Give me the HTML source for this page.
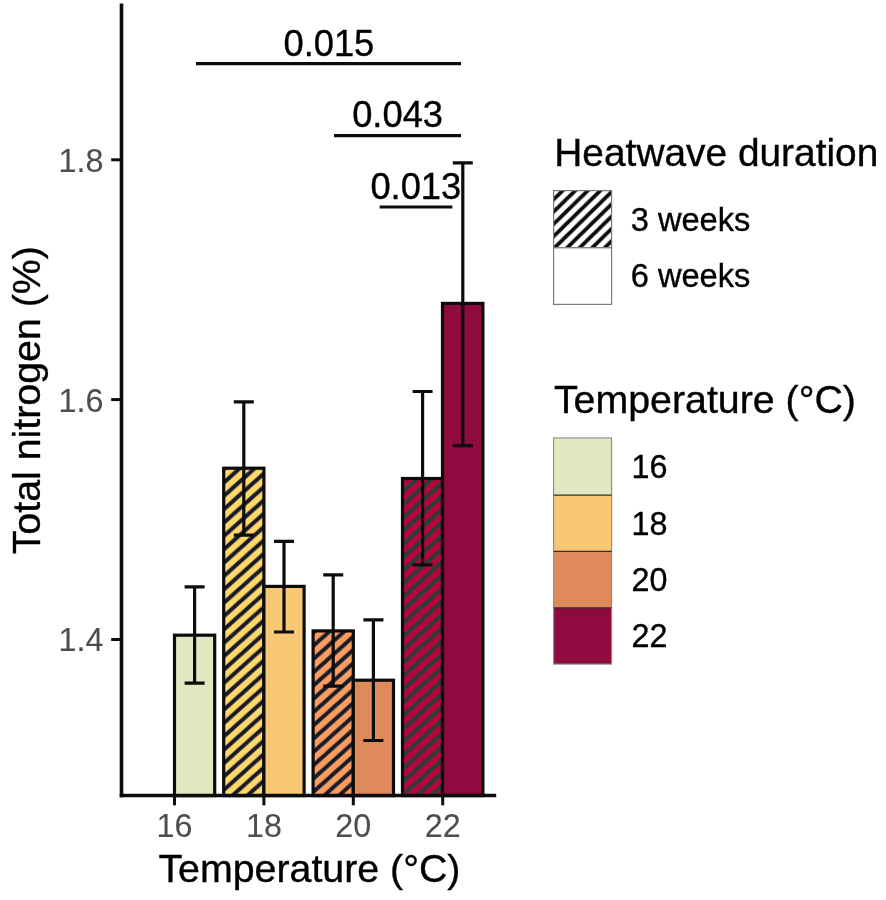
<!DOCTYPE html>
<html><head><meta charset="utf-8"><title>Total nitrogen by temperature and heatwave duration</title>
<style>
html,body{margin:0;padding:0;background:#fff;}
body{width:886px;height:900px;overflow:hidden;}
svg{display:block;filter:blur(0.7px);}
text{font-family:"Liberation Sans",sans-serif;}
</style></head><body>
<svg width="886" height="900" viewBox="0 0 886 900">
<defs>
<pattern id="h18" patternUnits="userSpaceOnUse" x="1.78" y="0" width="14.927374301675977" height="13.36">
<rect width="14.927374301675977" height="13.36" fill="#FFD868"/>
<path d="M-14.927374301675977,13.36 L14.927374301675977,-13.36 M-14.927374301675977,26.72 L29.854748603351954,-13.36 M0,26.72 L29.854748603351954,0" stroke="#16182c" stroke-width="4.08"/>
</pattern>
<pattern id="h20" patternUnits="userSpaceOnUse" x="11.13" y="0" width="14.837988826815641" height="13.28">
<rect width="14.837988826815641" height="13.28" fill="#FF9C5E"/>
<path d="M-14.837988826815641,13.28 L14.837988826815641,-13.28 M-14.837988826815641,26.56 L29.675977653631282,-13.28 M0,26.56 L29.675977653631282,0" stroke="#121c2a" stroke-width="4.06"/>
</pattern>
<pattern id="h22" patternUnits="userSpaceOnUse" x="8.87" y="0" width="14.737430167597765" height="13.19">
<rect width="14.737430167597765" height="13.19" fill="#B6043C"/>
<path d="M-14.737430167597765,13.19 L14.737430167597765,-13.19 M-14.737430167597765,26.38 L29.47486033519553,-13.19 M0,26.38 L29.47486033519553,0" stroke="#283e37" stroke-width="4.03"/>
</pattern>
<pattern id="hleg" patternUnits="userSpaceOnUse" x="4.15" y="0" width="12.55" height="12.3">
<rect width="12.55" height="12.3" fill="#ffffff"/>
<path d="M-12.55,12.3 L12.55,-12.3 M-12.55,24.6 L25.1,-12.3 M0,24.6 L25.1,0" stroke="#0c0c0c" stroke-width="3.87"/>
</pattern>
</defs>
<rect width="886" height="900" fill="#fff"/>

<g stroke="#0c0c0c" stroke-width="3.2" stroke-linejoin="miter">
<rect x="174.5" y="635.2" width="40.2" height="160.4" fill="#E1E8C0"/>
<rect x="223.7" y="468.2" width="40.2" height="327.4" fill="url(#h18)"/>
<rect x="263.9" y="586.4" width="40.2" height="209.2" fill="#F9C876"/>
<rect x="313.1" y="630.9" width="40.2" height="164.7" fill="url(#h20)"/>
<rect x="353.3" y="680.2" width="40.2" height="115.4" fill="#DE8A5A"/>
<rect x="402.5" y="478.5" width="40.0" height="317.1" fill="url(#h22)"/>
<rect x="442.5" y="303.4" width="40.4" height="492.2" fill="#8F0A3F"/>
</g>
<g stroke="#0c0c0c" stroke-width="3.2" fill="none">
<path d="M184.6,586.8 H204.6 M194.6,586.8 V683.2 M184.6,683.2 H204.6"/>
<path d="M233.8,401.9 H253.8 M243.8,401.9 V535.2 M233.8,535.2 H253.8"/>
<path d="M274.0,541.4 H294.0 M284.0,541.4 V632.0 M274.0,632.0 H294.0"/>
<path d="M323.2,574.9 H343.2 M333.2,574.9 V686.2 M323.2,686.2 H343.2"/>
<path d="M363.4,619.9 H383.4 M373.4,619.9 V740.5 M363.4,740.5 H383.4"/>
<path d="M412.6,391.5 H432.6 M422.6,391.5 V564.9 M412.6,564.9 H432.6"/>
<path d="M452.8,162.8 H472.8 M462.8,162.8 V445.7 M452.8,445.7 H472.8"/>
</g>
<g stroke="#0c0c0c" fill="none">
<path d="M121.5,3.5 V797.35" stroke-width="3.6"/>
<path d="M119.7,795.6 H496.2" stroke-width="3.5"/>
<path d="M111.2,159.8 H121.5" stroke-width="3"/>
<path d="M111.2,399.6 H121.5" stroke-width="3"/>
<path d="M111.2,639.5 H121.5" stroke-width="3"/>
<path d="M174.5,795.6 V805.3" stroke-width="3"/>
<path d="M263.9,795.6 V805.3" stroke-width="3"/>
<path d="M353.3,795.6 V805.3" stroke-width="3"/>
<path d="M442.7,795.6 V805.3" stroke-width="3"/>
</g>
<text transform="translate(103.5,171.7)" font-size="32.3" text-anchor="end" fill="#4d4d4d" stroke="#4d4d4d" stroke-width="0.1">1.8</text>
<text transform="translate(103.5,411.5)" font-size="32.3" text-anchor="end" fill="#4d4d4d" stroke="#4d4d4d" stroke-width="0.1">1.6</text>
<text transform="translate(103.5,651.4)" font-size="32.3" text-anchor="end" fill="#4d4d4d" stroke="#4d4d4d" stroke-width="0.1">1.4</text>
<text transform="translate(174.5,836.6)" font-size="32.3" text-anchor="middle" fill="#4d4d4d" stroke="#4d4d4d" stroke-width="0.1">16</text>
<text transform="translate(263.9,836.6)" font-size="32.3" text-anchor="middle" fill="#4d4d4d" stroke="#4d4d4d" stroke-width="0.1">18</text>
<text transform="translate(353.3,836.6)" font-size="32.3" text-anchor="middle" fill="#4d4d4d" stroke="#4d4d4d" stroke-width="0.1">20</text>
<text transform="translate(442.7,836.6)" font-size="32.3" text-anchor="middle" fill="#4d4d4d" stroke="#4d4d4d" stroke-width="0.1">22</text>
<text transform="translate(309.4,881.5) scale(1.027,1)" font-size="38.3" text-anchor="middle" fill="#000" stroke="#000" stroke-width="0.35">Temperature (°C)</text>
<text transform="translate(39.7,400.2) rotate(-90) scale(1.027,1)" font-size="38.3" text-anchor="middle" fill="#000" stroke="#000" stroke-width="0.35">Total nitrogen (%)</text>
<g stroke="#0c0c0c" stroke-width="3.2" fill="none">
<path d="M196,63.6 H461"/>
<path d="M334,135.6 H461"/>
<path d="M379.6,207 H452.4"/>
</g>
<text transform="translate(328.9,55.6)" font-size="36.3" text-anchor="middle" fill="#000" stroke="#000" stroke-width="0.35">0.015</text>
<text transform="translate(397.6,126.6)" font-size="36.3" text-anchor="middle" fill="#000" stroke="#000" stroke-width="0.35">0.043</text>
<text transform="translate(415.8,198.8)" font-size="36.3" text-anchor="middle" fill="#000" stroke="#000" stroke-width="0.35">0.013</text>
<text transform="translate(554.3,165.9) scale(1.014676,1)" font-size="38.3" text-anchor="start" fill="#000" stroke="#000" stroke-width="0.35">Heatwave duration</text>
<text transform="translate(553.9,413.2) scale(1.027,1)" font-size="38.3" text-anchor="start" fill="#000" stroke="#000" stroke-width="0.35">Temperature (°C)</text>
<g stroke="#7a7a7a" stroke-width="1.2">
<rect x="553.6" y="190.6" width="58" height="57.2" fill="url(#hleg)"/>
<rect x="553.6" y="247.8" width="58" height="56.6" fill="#fff"/>
</g>
<text transform="translate(630.7,230.8) scale(1.01,1)" font-size="32.3" text-anchor="start" fill="#000" stroke="#000" stroke-width="0.35">3 weeks</text>
<text transform="translate(630.7,287) scale(1.01,1)" font-size="32.3" text-anchor="start" fill="#000" stroke="#000" stroke-width="0.35">6 weeks</text>
<rect x="553.6" y="437.9" width="58" height="57.2" fill="#E1E8C0"/>
<rect x="553.6" y="495.1" width="58" height="56.3" fill="#F9C876"/>
<rect x="553.6" y="551.4" width="58" height="56.4" fill="#DE8A5A"/>
<rect x="553.6" y="607.8" width="58" height="56.3" fill="#8F0A3F"/>
<rect x="553.6" y="437.9" width="58" height="226.2" fill="none" stroke="#8c8c8c" stroke-width="1.1"/>
<g stroke="#2e2e2e" stroke-width="1.3">
<path d="M553.6,495.1 H611.6"/>
<path d="M553.6,551.4 H611.6"/>
<path d="M553.6,607.8 H611.6"/>
</g>
<text transform="translate(631.6,477.9)" font-size="32.3" text-anchor="start" fill="#000" stroke="#000" stroke-width="0.35">16</text>
<text transform="translate(631.6,534.6)" font-size="32.3" text-anchor="start" fill="#000" stroke="#000" stroke-width="0.35">18</text>
<text transform="translate(631.6,591.0)" font-size="32.3" text-anchor="start" fill="#000" stroke="#000" stroke-width="0.35">20</text>
<text transform="translate(631.6,647.4)" font-size="32.3" text-anchor="start" fill="#000" stroke="#000" stroke-width="0.35">22</text>
</svg></body></html>
